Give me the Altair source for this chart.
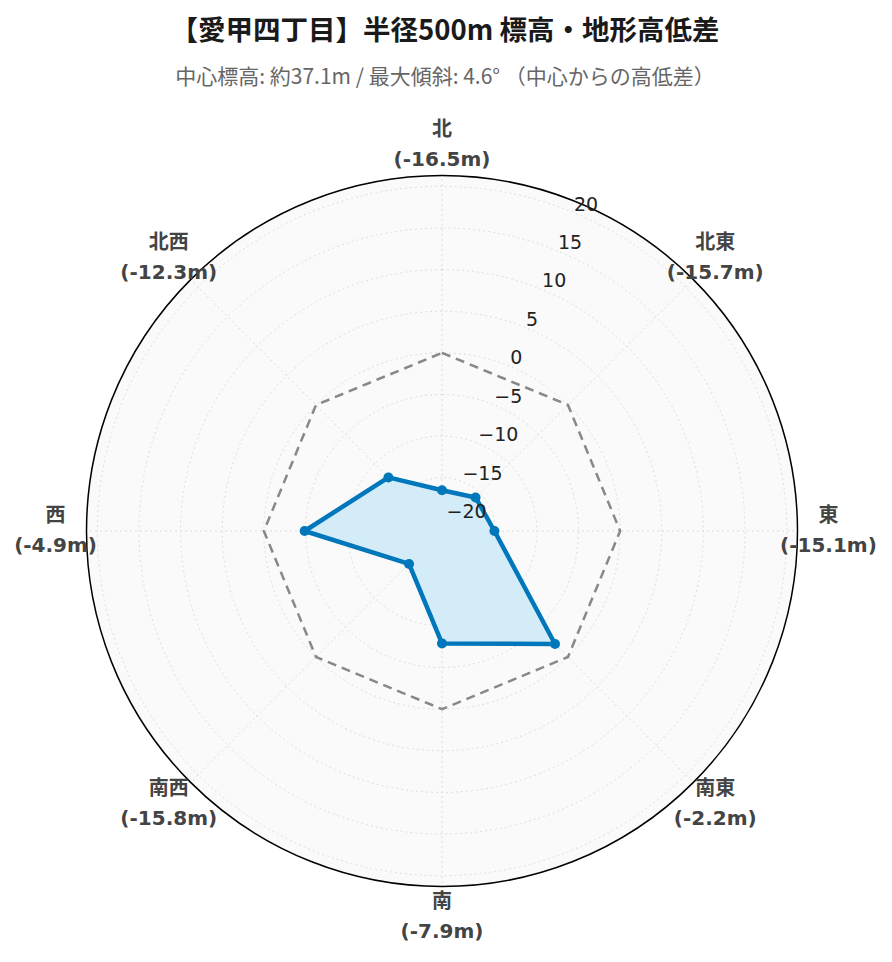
import altair as alt
import pandas as pd

# ---- data ----
directions = ["北", "北東", "東", "南東", "南", "南西", "西", "北西"]
bearings = [0, 45, 90, 135, 180, 225, 270, 315]
height_diff = [-16.5, -15.7, -15.1, -2.2, -7.9, -15.8, -4.9, -12.3]
radial_ticks = [-20, -15, -10, -5, 0, 5, 10, 15, 20]
radial_tick_labels = ["−20", "−15", "−10", "−5", "0", "5", "10", "15", "20"]
reference_level = [0.0] * len(directions)

title_text = "【愛甲四丁目】半径500m 標高・地形高低差"
subtitle_text = "中心標高: 約37.1m / 最大傾斜: 4.6° （中心からの高低差）"

# ---- radial axis range ----
RMIN, RMAX = -21.4, 21.3
SPAN = RMAX - RMIN
SIZE = 711
TICK_BEARING = 22.5
LABEL_FACTOR = 1.087

n = len(directions)
poly_df = pd.DataFrame({
    "i": list(range(n + 1)),
    "bearing": bearings + [bearings[0]],
    "v": height_diff + [height_diff[0]],
})
zero_df = pd.DataFrame({
    "i": list(range(n + 1)),
    "bearing": bearings + [bearings[0]],
    "v": reference_level + [reference_level[0]],
})
spoke_df = pd.DataFrame({"bearing": bearings})
grid_df = pd.DataFrame({"v": radial_ticks})
outer_df = pd.DataFrame({"v": [RMAX]})
tick_df = pd.DataFrame({"v": radial_ticks, "label": radial_tick_labels})
label_df = pd.DataFrame({
    "bearing": bearings,
    "label": [f"{d}\n({v:.1f}m)" for d, v in zip(directions, height_diff)],
})

xs = alt.Scale(domain=[-SPAN, SPAN], nice=False, zero=False)
ys = alt.Scale(domain=[-SPAN, SPAN], nice=False, zero=False)
rs = alt.Scale(type="linear", domain=[RMIN, RMAX], range=[0, SIZE / 2], zero=False, nice=False)


def polar(chart, rexpr):
    return chart.transform_calculate(
        rr=rexpr,
    ).transform_calculate(
        px="datum.rr * sin(datum.bearing * PI / 180)",
        py="datum.rr * cos(datum.bearing * PI / 180)",
    )


X = lambda f: alt.X(f, scale=xs, axis=None)
Y = lambda f: alt.Y(f, scale=ys, axis=None)


def ring(data):
    return alt.Chart(data).transform_calculate(r0=f"{RMIN}")


R = lambda: alt.Radius("v:Q", scale=rs, stack=None)
R2 = lambda: alt.Radius2("r0:Q")

bg = ring(outer_df).mark_arc(fill="#fafafa", strokeWidth=0).encode(radius=R(), radius2=R2())

grid = ring(grid_df).mark_arc(
    filled=False, stroke="#dddddd", strokeWidth=1, strokeDash=[2, 3]
).encode(radius=R(), radius2=R2())

spokes = polar(alt.Chart(spoke_df), f"{SPAN}").transform_calculate(
    x0="0", y0="0"
).mark_rule(stroke="#dddddd", strokeWidth=1, strokeDash=[2, 3]).encode(
    x=X("x0:Q"), y=Y("y0:Q"), x2="px:Q", y2="py:Q"
)

outer = ring(outer_df).mark_arc(
    filled=False, stroke="#000000", strokeWidth=1.5
).encode(radius=R(), radius2=R2())

zero_line = polar(alt.Chart(zero_df), f"datum.v - ({RMIN})").mark_line(
    stroke="#888888", strokeWidth=2.5, strokeDash=[9, 6]
).encode(x=X("px:Q"), y=Y("py:Q"), order="i:Q")

area = polar(alt.Chart(poly_df), f"datum.v - ({RMIN})").mark_line(
    fill="#d4ecf8", stroke="#0077bb", strokeWidth=4.5, strokeJoin="round"
).encode(x=X("px:Q"), y=Y("py:Q"), order="i:Q")

pts = polar(alt.Chart(poly_df[poly_df["i"] < n]), f"datum.v - ({RMIN})").mark_point(
    filled=True, color="#0077bb", size=100, opacity=1
).encode(x=X("px:Q"), y=Y("py:Q"))

ticks = polar(
    alt.Chart(tick_df).transform_calculate(bearing=f"{TICK_BEARING}"),
    f"datum.v - ({RMIN})",
).mark_text(
    align="left", baseline="alphabetic", dy=-2, font="DejaVu Sans", fontSize=19, color="#222222"
).encode(x=X("px:Q"), y=Y("py:Q"), text="label:N")

labels = polar(alt.Chart(label_df), f"{SPAN * LABEL_FACTOR}").mark_text(
    align="center", baseline="middle", lineBreak="\n", lineHeight=30, dy=-15,
    font="DejaVu Sans, Noto Sans CJK JP", fontWeight="bold", fontSize=20, color="#444444"
).encode(x=X("px:Q"), y=Y("py:Q"), text="label:N")

chart = alt.layer(
    bg, grid, spokes, zero_line, area, pts, outer, ticks, labels
).properties(
    width=SIZE,
    height=SIZE,
    autosize=alt.AutoSizeParams(type="none"),
    padding={"left": 78.5, "top": 167.5, "right": 86.5, "bottom": 67.5},
    title=alt.TitleParams(
        text=title_text,
        subtitle=subtitle_text,
        font="Noto Sans CJK JP",
        fontSize=27.5,
        fontWeight="bold",
        color="#1a1a1a",
        subtitleFont="Noto Sans CJK JP",
        subtitleFontSize=21,
        subtitleColor="#666666",
        subtitlePadding=21,
        anchor="middle",
        frame="group",
        offset=32,
        dx=3,
    ),
).configure_view(stroke=None)

chart.save("out.html", embed_options={"renderer": "svg", "actions": False})
